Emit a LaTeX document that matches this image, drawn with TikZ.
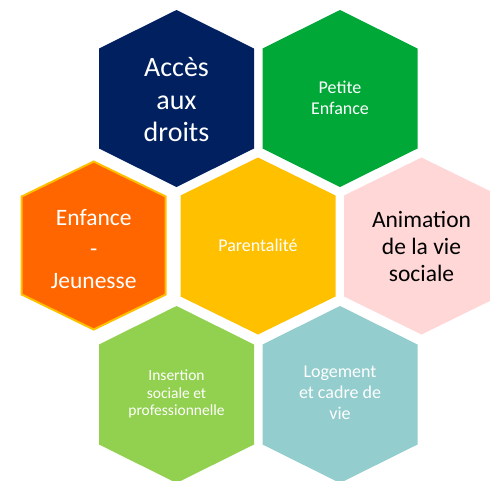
\documentclass[tikz,border=0pt]{standalone}
\usepackage{fontspec}
\setmainfont{Carlito}
\definecolor{navy}{HTML}{002060}
\definecolor{hgreen}{HTML}{00A838}
\definecolor{horange}{HTML}{FF6600}
\definecolor{hgold}{HTML}{FFC000}
\definecolor{hpink}{HTML}{FFD7D7}
\definecolor{hlgreen}{HTML}{92D050}
\definecolor{hteal}{HTML}{93CDCD}
\newcommand{\hexpath}[5]{% cx cy halfwidth halfheight halfside
  (#1,#2-#4) -- (#1+#3,#2-#5) -- (#1+#3,#2+#5) -- (#1,#2+#4) -- (#1-#3,#2+#5) -- (#1-#3,#2-#5) -- cycle}
\tikzset{
  hexfill/.style={fill=#1, draw=none},
  lbl/.style={align=center, inner sep=0pt},
}
\begin{document}
\begin{tikzpicture}[x=1pt,y=-1pt]
\useasboundingbox (0,0) rectangle (490,480);
\clip (0,0) rectangle (490,480);
% row 1
\path[hexfill=navy] \hexpath{176.5}{98.5}{77.5}{88.5}{50};
\path[hexfill=hgreen] \hexpath{340}{98.5}{77.5}{88.5}{50};
% row 2
\path[fill=horange, draw=hgold, line width=2pt] \hexpath{93.7}{245.5}{72}{84}{49};
\path[hexfill=hgold] \hexpath{258}{246}{77.5}{88.5}{50.5};
\path[hexfill=hpink] \hexpath{421.5}{246}{77.5}{88.5}{50.5};
% row 3
\path[hexfill=hlgreen] \hexpath{176.5}{394.5}{77.5}{88.5}{50};
\path[hexfill=hteal] \hexpath{340}{394.5}{77.5}{88.5}{50};
% labels
\node[lbl, text=white, font=\fontsize{28}{32.5}\selectfont] (acces) at (176.5,100) {Accès\\aux\\droits};
\node[lbl, text=white, font=\fontsize{18}{20.5}\selectfont] (petite) at (340,98) {Petite\\Enfance};
\node[lbl, text=white, font=\fontsize{23.5}{31.5}\selectfont] (enfance) at (93.7,249) {Enfance\\-\\Jeunesse};
\node[lbl, text=white, font=\fontsize{18}{21}\selectfont] (parent) at (258,245) {Parentalité};
\node[lbl, text=black, font=\fontsize{23.5}{27}\selectfont] (anim) at (421.5,246) {Animation\\de la vie\\sociale};
\node[lbl, text=white, font=\fontsize{15.5}{17.5}\selectfont] (insert) at (176.5,394) {Insertion\\sociale et\\professionnelle};
\node[lbl, text=white, font=\fontsize{18}{21}\selectfont] (logement) at (340,393) {Logement\\et cadre de\\vie};
\end{tikzpicture}
\end{document}
